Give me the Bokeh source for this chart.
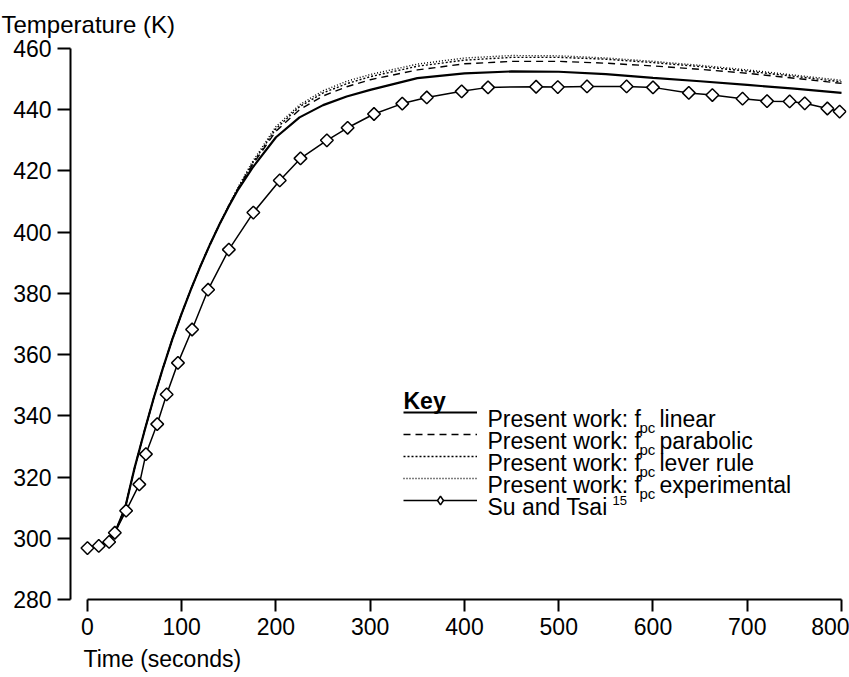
import numpy as np
from bokeh.plotting import figure
from bokeh.models import Range1d, FixedTicker, Label, Legend, LegendItem, Title
from bokeh.core.properties import value
from bokeh.embed import file_html
from bokeh.resources import INLINE

# ---------------- data ----------------
time_model = [0, 10, 20, 30, 40, 50, 60, 70, 80, 90, 100, 110, 120, 130, 140, 150,
              160, 175, 200, 225, 250, 275, 300, 350, 400, 450, 500, 550, 600, 650,
              700, 750, 800]
temp_linear = [297, 297.4, 299, 302.5, 310, 323, 334.5, 345.5, 355.5, 365, 373.5, 381.5,
               389, 396, 402.5, 408.5, 414, 421, 431, 437.5, 441.5, 444.3, 446.5, 450.3,
               451.9, 452.5, 452.4, 451.6, 450.4, 449.3, 448.1, 446.9, 445.5]
temp_parabolic = [297, 297.4, 299, 302.5, 310, 323, 334.5, 345.5, 355.5, 365, 373.5, 381.5,
                  389, 396, 402.5, 408.6, 414.3, 422, 433, 440, 444.5, 447.5, 449.8, 453,
                  455, 455.8, 455.8, 455.2, 454.3, 453.2, 451.9, 450.3, 448.6]
temp_lever = [297, 297.4, 299, 302.5, 310, 323, 334.5, 345.5, 355.5, 365, 373.5, 381.5,
              389, 396, 402.5, 408.7, 414.5, 422.5, 433.8, 441, 445.5, 448.5, 450.8, 454.2,
              456.2, 457.1, 457.1, 456.5, 455.4, 454.1, 452.6, 450.9, 449.1]
temp_experimental = [297, 297.4, 299, 302.5, 310, 323, 334.5, 345.5, 355.5, 365, 373.5, 381.5,
                     389, 396, 402.6, 408.8, 414.8, 423, 434.5, 441.6, 446.2, 449.3, 451.5,
                     454.9, 456.9, 457.7, 457.6, 456.9, 455.8, 454.5, 453, 451.3, 449.6]

su_time = [0, 12, 23, 29, 41, 55, 62, 74, 84, 96, 111, 128, 150, 176, 204, 226, 254, 276,
           304, 334, 360, 397, 425, 476, 499, 530, 572, 600, 638, 663, 695, 721, 745, 761,
           785, 798]
su_temp = [296.8, 297.5, 298.8, 301.8, 309, 317.6, 327.5, 337.3, 347, 357.3, 368.2, 381.2,
           394.3, 406.4, 416.9, 424.1, 430, 434.1, 438.6, 442, 444, 446, 447.3, 447.5,
           447.4, 447.6, 447.6, 447.3, 445.5, 444.8, 443.6, 442.8, 442.7, 442.1, 440.4, 439.4]

x_ticks = [0, 100, 200, 300, 400, 500, 600, 700, 800]
y_ticks = [280, 300, 320, 340, 360, 380, 400, 420, 440, 460]

y_title = "Temperature (K)"
x_title = "Time (seconds)"
key_title = "Key"
legend_main = ["Present work: f", "Present work: f", "Present work: f", "Present work: f"]
legend_sub = "pc"
legend_suffix = ["linear", "parabolic", "lever rule", "experimental"]
su_label = "Su and Tsai"
su_ref = "15"

FONT = "Liberation Sans"

# ---------------- figure ----------------
FL, FB = 70, 599  # frame left / bottom in canvas px
p = figure(width=849, height=677, output_backend="svg", toolbar_location=None,
           x_range=Range1d(-18, 805.3), y_range=Range1d(280, 460),
           min_border_left=FL, min_border_right=3, min_border_top=48,
           min_border_bottom=677 - FB)
p.grid.visible = False
p.outline_line_color = None
p.background_fill_color = "white"
p.border_fill_color = "white"

for ax in (p.xaxis[0], p.yaxis[0]):
    ax.axis_line_width = 2
    ax.axis_line_color = "black"
    ax.major_tick_line_width = 2
    ax.major_tick_line_color = "black"
    ax.major_tick_in = 0
    ax.minor_tick_in = 0
    ax.minor_tick_out = 0
    ax.major_label_text_font = FONT
    ax.major_label_text_font_size = "23px"
    ax.major_label_text_color = "black"

p.xaxis.ticker = FixedTicker(ticks=x_ticks)
p.xaxis.bounds = (0, 800)
p.xaxis.major_tick_out = 12
p.xaxis.major_label_standoff = 6

p.yaxis.ticker = FixedTicker(ticks=y_ticks)
p.yaxis.major_tick_out = 13
p.yaxis.major_label_standoff = 6

# axis titles as panel titles (drawn outside the frame)
p.add_layout(Title(text=y_title, align="left", vertical_align="top", offset=-69, standoff=18,
                   text_font=FONT, text_font_size="24px", text_font_style="normal",
                   text_color="black"), "above")
p.add_layout(Title(text=x_title, align="left", vertical_align="bottom", offset=13, standoff=12,
                   text_font=FONT, text_font_size="23px", text_font_style="normal",
                   text_color="black"), "below")

# ---------------- series ----------------
r_lin = p.line(time_model, temp_linear, line_color="black", line_width=2.2)
r_par = p.line(time_model, temp_parabolic, line_color="black", line_width=1.4, line_dash="7 5")
r_lev = p.line(time_model, temp_lever, line_color="black", line_width=1.4, line_dash="2 2")
r_exp = p.line(time_model, temp_experimental, line_color="black", line_width=1.4, line_dash="1 2")
r_su = p.line(su_time, su_temp, line_color="black", line_width=1.5)
r_su_pts = p.scatter(su_time, su_temp, marker="square", angle=np.pi / 4, size=9,
                     fill_color="white", line_color="black", line_width=1.5)
# same points as a diamond marker, used only for the legend sample
r_su_key = p.scatter(su_time, su_temp, marker="diamond", size=13, fill_color="white",
                     line_color="black", line_width=1.5, visible=False)

# ---------------- legend (samples) ----------------
legend = Legend(items=[LegendItem(label=value(""), renderers=[r_lin]),
                       LegendItem(label=value(""), renderers=[r_par]),
                       LegendItem(label=value(""), renderers=[r_lev]),
                       LegendItem(label=value(""), renderers=[r_exp]),
                       LegendItem(label=value(""), renderers=[r_su, r_su_key])],
                location=(403 - FL, FB - 511), glyph_width=74, glyph_height=22,
                label_height=22, label_width=0, spacing=0, padding=0, margin=0,
                label_standoff=0, label_text_font_size="1px",
                inactive_fill_alpha=0,
                border_line_color=None, background_fill_alpha=0)
p.add_layout(legend)


def put(text, X, Y, size="23px", style="normal"):
    p.add_layout(Label(x=X - FL, y=FB - Y, x_units="screen", y_units="screen", text=text,
                       text_font=FONT, text_font_size=size, text_font_style=style,
                       text_color="black", text_baseline="alphabetic", text_align="left"))


# legend texts
put(key_title, 403, 400, "23px", "bold")
bases = [418, 440, 462, 484, 506.5]
for i in range(4):
    put(legend_main[i], 487, bases[i])
    put(legend_sub, 639, bases[i] + 9, "15px")
    put(legend_suffix[i], 659, bases[i])
put(su_label, 487, bases[4])
put(su_ref, 612, bases[4] - 7, "13px")

open("out.html", "w").write(file_html(p, INLINE))
